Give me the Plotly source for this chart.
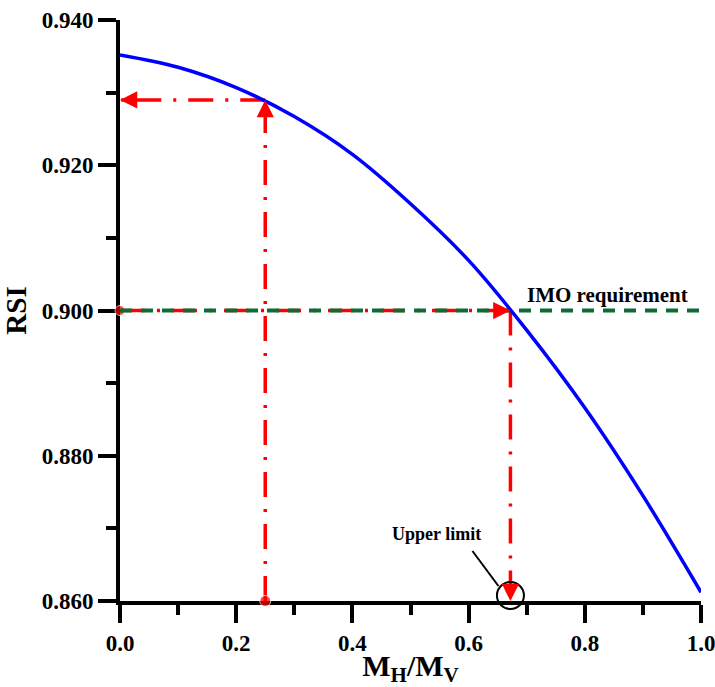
import plotly.graph_objects as go

# Ratio of horizontal to vertical moment vs. resulting stability index
ratio = [0.0, 0.1, 0.2, 0.3, 0.4, 0.5, 0.6, 0.7, 0.8, 0.9, 1.0]
rsi = [0.9352, 0.9335, 0.9307, 0.9267, 0.9215, 0.9147, 0.9069, 0.8973, 0.8866, 0.8745, 0.8612]

# Reference readings
design_ratio = 0.25
rsi_design = 0.929
imo_rsi = 0.900
upper_limit_ratio = 0.672
rsi_floor = 0.860

x_range = [0.0, 1.0]
y_range = [0.86, 0.94]
x_major = [0.0, 0.2, 0.4, 0.6, 0.8, 1.0]
x_minor = [0.1, 0.3, 0.5, 0.7, 0.9]
y_major = [0.86, 0.88, 0.90, 0.92, 0.94]
y_minor = [0.87, 0.89, 0.91, 0.93]

RED = "#ff0000"
GREEN = "#0e6a36"
BLUE = "#0000ff"
FONT = "Liberation Serif"
DASHDOT = "25px,12px,3px,12px"

fig = go.Figure()

red_line = dict(color=RED, width=3.5, dash=DASHDOT)


def guide(xs, ys):
    # dash-dot guide line
    return go.Scatter(x=xs, y=ys, mode="lines", line=red_line, cliponaxis=False)


fig.add_trace(guide([design_ratio, design_ratio], [rsi_floor, rsi_design]))
fig.add_trace(guide([design_ratio, 0.0], [rsi_design, rsi_design]))
fig.add_trace(guide([0.0, upper_limit_ratio], [imo_rsi, imo_rsi]))
fig.add_trace(guide([upper_limit_ratio, upper_limit_ratio], [imo_rsi, rsi_floor]))

# start dots of the guides
fig.add_trace(go.Scatter(x=[design_ratio, 0.0], y=[rsi_floor, imo_rsi], mode="markers",
                         marker=dict(size=[11, 10], color=RED), cliponaxis=False))

# IMO requirement
fig.add_trace(go.Scatter(x=[0.0, 1.0], y=[imo_rsi, imo_rsi], mode="lines",
                         line=dict(color=GREEN, width=4, dash="12px,9px"), cliponaxis=False))

# RSI curve
fig.add_trace(go.Scatter(x=ratio, y=rsi, mode="lines",
                         line=dict(color=BLUE, width=3.5, shape="spline"), cliponaxis=False))


def head(x, y, ax, ay):
    # arrow head at the end of a guide
    return dict(x=x, y=y, xref="x", yref="y", ax=ax, ay=ay, axref="pixel", ayref="pixel",
                text="", showarrow=True, arrowhead=2, arrowsize=1.15, arrowwidth=3,
                arrowcolor=RED)


annotations = [
    head(0.0, rsi_design, 16, 0),
    head(design_ratio, rsi_design, 0, 16),
    head(upper_limit_ratio, imo_rsi, -16, 0),
    head(upper_limit_ratio, rsi_floor, 0, -16),
    dict(x=0.839, y=imo_rsi, xref="x", yref="y", yshift=16, showarrow=False,
         text="<b>IMO requirement</b>", font=dict(family=FONT, size=21, color="black")),
    dict(x=upper_limit_ratio, y=rsi_floor, xref="x", yref="y", xshift=-74, yshift=67,
         showarrow=False, text="<b>Upper limit</b>",
         font=dict(family=FONT, size=18, color="black")),
]

# marker circle around the upper limit, placed in paper space so it is not clipped
limit_px = (upper_limit_ratio - x_range[0]) / (x_range[1] - x_range[0])
floor_py = (rsi_floor - y_range[0]) / (y_range[1] - y_range[0])
shapes = [
    dict(type="circle", xref="paper", yref="paper", xsizemode="pixel", ysizemode="pixel",
         xanchor=limit_px, yanchor=floor_py, x0=-13.5, x1=13.5, y0=-8, y1=19,
         line=dict(color="black", width=2)),
    dict(type="line", xref="paper", yref="paper", xsizemode="pixel", ysizemode="pixel",
         xanchor=limit_px, yanchor=floor_py, x0=-38, y0=50, x1=-12, y1=15,
         line=dict(color="black", width=2)),
]

tickfont = dict(family=FONT, size=23, color="black")
axis_common = dict(showline=True, linewidth=4, linecolor="black", ticks="outside",
                   ticklen=18, tickwidth=4, tickcolor="black", showgrid=False,
                   zeroline=False, tickfont=tickfont, automargin=False,
                   layer="below traces", ticklabeloverflow="allow")

fig.update_layout(
    width=715, height=687,
    margin=dict(l=120, r=14, t=20, b=86),
    paper_bgcolor="white", plot_bgcolor="white",
    showlegend=False,
    annotations=annotations, shapes=shapes,
    xaxis=dict(range=x_range, tickvals=x_major,
               ticktext=[f"<b>{v:.1f}</b>" for v in x_major],
               minor=dict(tickvals=x_minor, ticks="outside", ticklen=10, tickwidth=4,
                          tickcolor="black"),
               title=dict(text="<b>M<sub>H</sub>/M<sub>V</sub></b>",
                          font=dict(family=FONT, size=30, color="black"), standoff=8),
               **axis_common),
    yaxis=dict(range=y_range, tickvals=y_major,
               ticktext=[f"<b>{v:.3f}</b>" for v in y_major],
               minor=dict(tickvals=y_minor, ticks="outside", ticklen=10, tickwidth=4,
                          tickcolor="black"),
               title=dict(text="<b>RSI</b>",
                          font=dict(family=FONT, size=29, color="black"), standoff=10),
               **axis_common),
)

fig.write_html("out.html")
